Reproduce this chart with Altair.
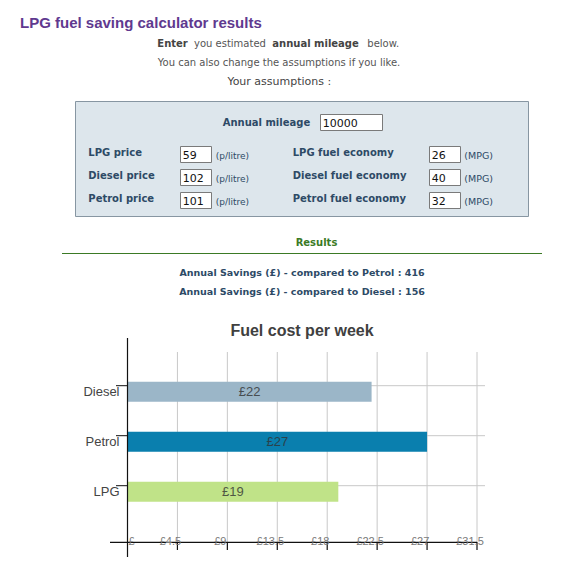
import altair as alt
import pandas as pd

# ---------------- data ----------------
fuels = ["Diesel", "Petrol", "LPG"]
weekly_cost = [22, 27, 19]
bar_labels = ["£22", "£27", "£19"]
x_ticks = [0, 4.5, 9, 13.5, 18, 22.5, 27, 31.5]
x_tick_labels = ["£", "£4.5", "£9", "£13.5", "£18", "£22.5", "£27", "£31.5"]

annual_mileage = "10000"
price_labels = ["LPG price", "Diesel price", "Petrol price"]
prices = ["59", "102", "101"]
economy_labels = ["LPG fuel economy", "Diesel fuel economy", "Petrol fuel economy"]
economy = ["26", "40", "32"]
savings_vs = ["Petrol", "Diesel"]
savings = [416, 156]

bar_colors = ["#9bb6c8", "#0a7fae", "#c0e388"]

# ---------------- helpers ----------------
M = 8  # page margin
FORM = "#2d4a66"
SANS = "DejaVu Sans"
ARIAL = "Liberation Sans"


def one():
    return alt.Data(values=[{"k": 0}])


def T(s, x, y, size, color, weight="normal", align="left", font=SANS):
    return alt.Chart(one()).mark_text(
        align=align, baseline="middle", fontSize=size, fontWeight=weight,
        font=font, color=color
    ).encode(x=alt.value(x - M), y=alt.value(y - M), text=alt.value(s))


def R(x1, x2, y1, y2, fill, stroke, sw=1):
    return alt.Chart(one()).mark_rect(fill=fill, stroke=stroke, strokeWidth=sw).encode(
        x=alt.value(x1 - M), x2=alt.value(x2 - M), y=alt.value(y1 - M), y2=alt.value(y2 - M)
    )


def HL(x1, x2, y, color, sw=1):
    return alt.Chart(one()).mark_rule(color=color, strokeWidth=sw).encode(
        x=alt.value(x1 - M), x2=alt.value(x2 - M), y=alt.value(y - M)
    )


def VL(x, y1, y2, color, sw=1):
    return alt.Chart(one()).mark_rule(color=color, strokeWidth=sw).encode(
        x=alt.value(x - M), y=alt.value(y1 - M), y2=alt.value(y2 - M)
    )


layers = []
# ---------------- page header ----------------
layers.append(T("LPG fuel saving calculator results", 20, 23.3, 15, "#60398f", "bold", font=ARIAL))
layers.append(T("Enter", 157.3, 44, 10, "#444444", "bold"))
layers.append(T("you estimated", 194, 44, 10, "#555555"))
layers.append(T("annual mileage", 272.3, 44, 10, "#444444", "bold"))
layers.append(T("below.", 367.3, 44, 10, "#555555"))
layers.append(T("You can also change the assumptions if you like.", 279, 63, 10, "#555555", align="center"))
layers.append(T("Your assumptions :", 279.3, 81.5, 11, "#444444", align="center"))

# form box
layers.append(R(75.5, 528.5, 101.5, 216.5, "#dde6ec", "#8796a2"))
layers.append(T("Annual mileage", 222.7, 123.3, 10, FORM, "bold"))
layers.append(R(320.5, 382.5, 114.5, 130.5, "white", "#7a7a7a"))
layers.append(T(annual_mileage, 322.8, 123.5, 11, "#111111"))

row_y = [153, 176.3, 199.3]
box_y = [(146.5, 162.5), (169.5, 185.5), (192.5, 208.5)]
for i in range(3):
    yc = row_y[i]
    b1, b2 = box_y[i]
    bc = (b1 + b2) / 2 + 1
    layers.append(T(price_labels[i], 88.3, yc, 10, FORM, "bold"))
    layers.append(R(180.5, 211.5, b1, b2, "white", "#7a7a7a"))
    layers.append(T(prices[i], 182.8, bc, 11, "#111111"))
    layers.append(T("(p/litre)", 215.7, bc, 9, FORM))
    layers.append(T(economy_labels[i], 292.7, yc, 10, FORM, "bold"))
    layers.append(R(429.5, 460.5, b1, b2, "white", "#7a7a7a"))
    layers.append(T(economy[i], 431.8, bc, 11, "#111111"))
    layers.append(T("(MPG)", 464.3, bc, 9.5, FORM))

# results
layers.append(T("Results", 316.5, 242.7, 10, "#3b7a25", "bold", align="center"))
layers.append(HL(62, 542, 253.5, "#3b7a25", 1.2))
for i in range(2):
    layers.append(T(f"Annual Savings (£) - compared to {savings_vs[i]} : {savings[i]}",
                    302, 273.3 + 19 * i, 9.5, FORM, "bold", align="center"))

# ---------------- chart ----------------
xs = alt.Scale(domain=[0, 31.5], range=[127.5 - M, 477 - M], nice=False, zero=False)
ys = alt.Scale(domain=fuels, range=[366.7 - M, 516.7 - M], paddingInner=0.6, paddingOuter=0.3)

bars_df = pd.DataFrame({"fuel": fuels, "cost": weekly_cost, "label": bar_labels})
ticks_df = pd.DataFrame({"v": x_ticks, "lab": x_tick_labels})

layers.append(T("Fuel cost per week", 302, 331.3, 16, "#404040", "bold", align="center", font=ARIAL))

# vertical gridlines
layers.append(
    alt.Chart(ticks_df).transform_filter("datum.v > 0").mark_rule(color="#c8c8c8", strokeWidth=1).encode(
        x=alt.X("v:Q", scale=xs, axis=None), y=alt.value(352 - M), y2=alt.value(542 - M)
    )
)
# horizontal gridlines
layers.append(
    alt.Chart(bars_df).mark_rule(color="#c8c8c8", strokeWidth=1, yOffset=-6).encode(
        y=alt.Y("fuel:N", scale=ys, axis=None), x=alt.value(127.5 - M), x2=alt.value(485 - M)
    )
)
# bars
layers.append(
    alt.Chart(bars_df).mark_bar().encode(
        x=alt.X("cost:Q", scale=xs, axis=None),
        y=alt.Y("fuel:N", scale=ys, axis=None),
        color=alt.Color("fuel:N", scale=alt.Scale(domain=fuels, range=bar_colors), legend=None),
    )
)
# bar labels
layers.append(
    alt.Chart(bars_df).transform_calculate(mid="datum.cost / 2").mark_text(
        font=ARIAL, fontSize=13, color="#333333", opacity=0.8, baseline="middle", align="center"
    ).encode(
        x=alt.X("mid:Q", scale=xs, axis=None),
        y=alt.Y("fuel:N", scale=ys, axis=None),
        text="label:N",
    )
)
# y tick marks
layers.append(
    alt.Chart(bars_df).mark_rule(color="#111111", strokeWidth=1, yOffset=-6).encode(
        y=alt.Y("fuel:N", scale=ys, axis=None), x=alt.value(116 - M), x2=alt.value(127.5 - M)
    )
)
# y labels
layers.append(
    alt.Chart(bars_df).mark_text(font=ARIAL, fontSize=13, color="#444444", align="right", baseline="middle").encode(
        y=alt.Y("fuel:N", scale=ys, axis=None), x=alt.value(119.5 - M), text="fuel:N"
    )
)
# axis lines
layers.append(VL(127.5, 338, 557, "#111111", 1.2))
layers.append(HL(110, 477, 542.3, "#111111", 1.2))
# x tick marks
layers.append(
    alt.Chart(ticks_df).transform_filter("datum.v > 0").mark_rule(color="#111111", strokeWidth=1.2).encode(
        x=alt.X("v:Q", scale=xs, axis=None), y=alt.value(542 - M), y2=alt.value(550 - M)
    )
)
# x tick labels
layers.append(
    alt.Chart(ticks_df).transform_filter("datum.v > 0").mark_text(
        font=ARIAL, fontSize=11, color="#7a7a7a", align="center", baseline="middle", dx=-7
    ).encode(x=alt.X("v:Q", scale=xs, axis=None), y=alt.value(542.3 - M), text="lab:N")
)
layers.append(
    alt.Chart(ticks_df).transform_filter("datum.v == 0").mark_text(
        font=ARIAL, fontSize=11, color="#7a7a7a", align="left", baseline="middle", dx=1
    ).encode(x=alt.X("v:Q", scale=xs, axis=None), y=alt.value(542.3 - M), text="lab:N")
)

chart = alt.layer(*layers).properties(
    width=550, height=554, padding=0, autosize="none", background="white"
).configure_view(stroke=None)

chart.save("out.html", embed_options={"renderer": "svg", "actions": False})
